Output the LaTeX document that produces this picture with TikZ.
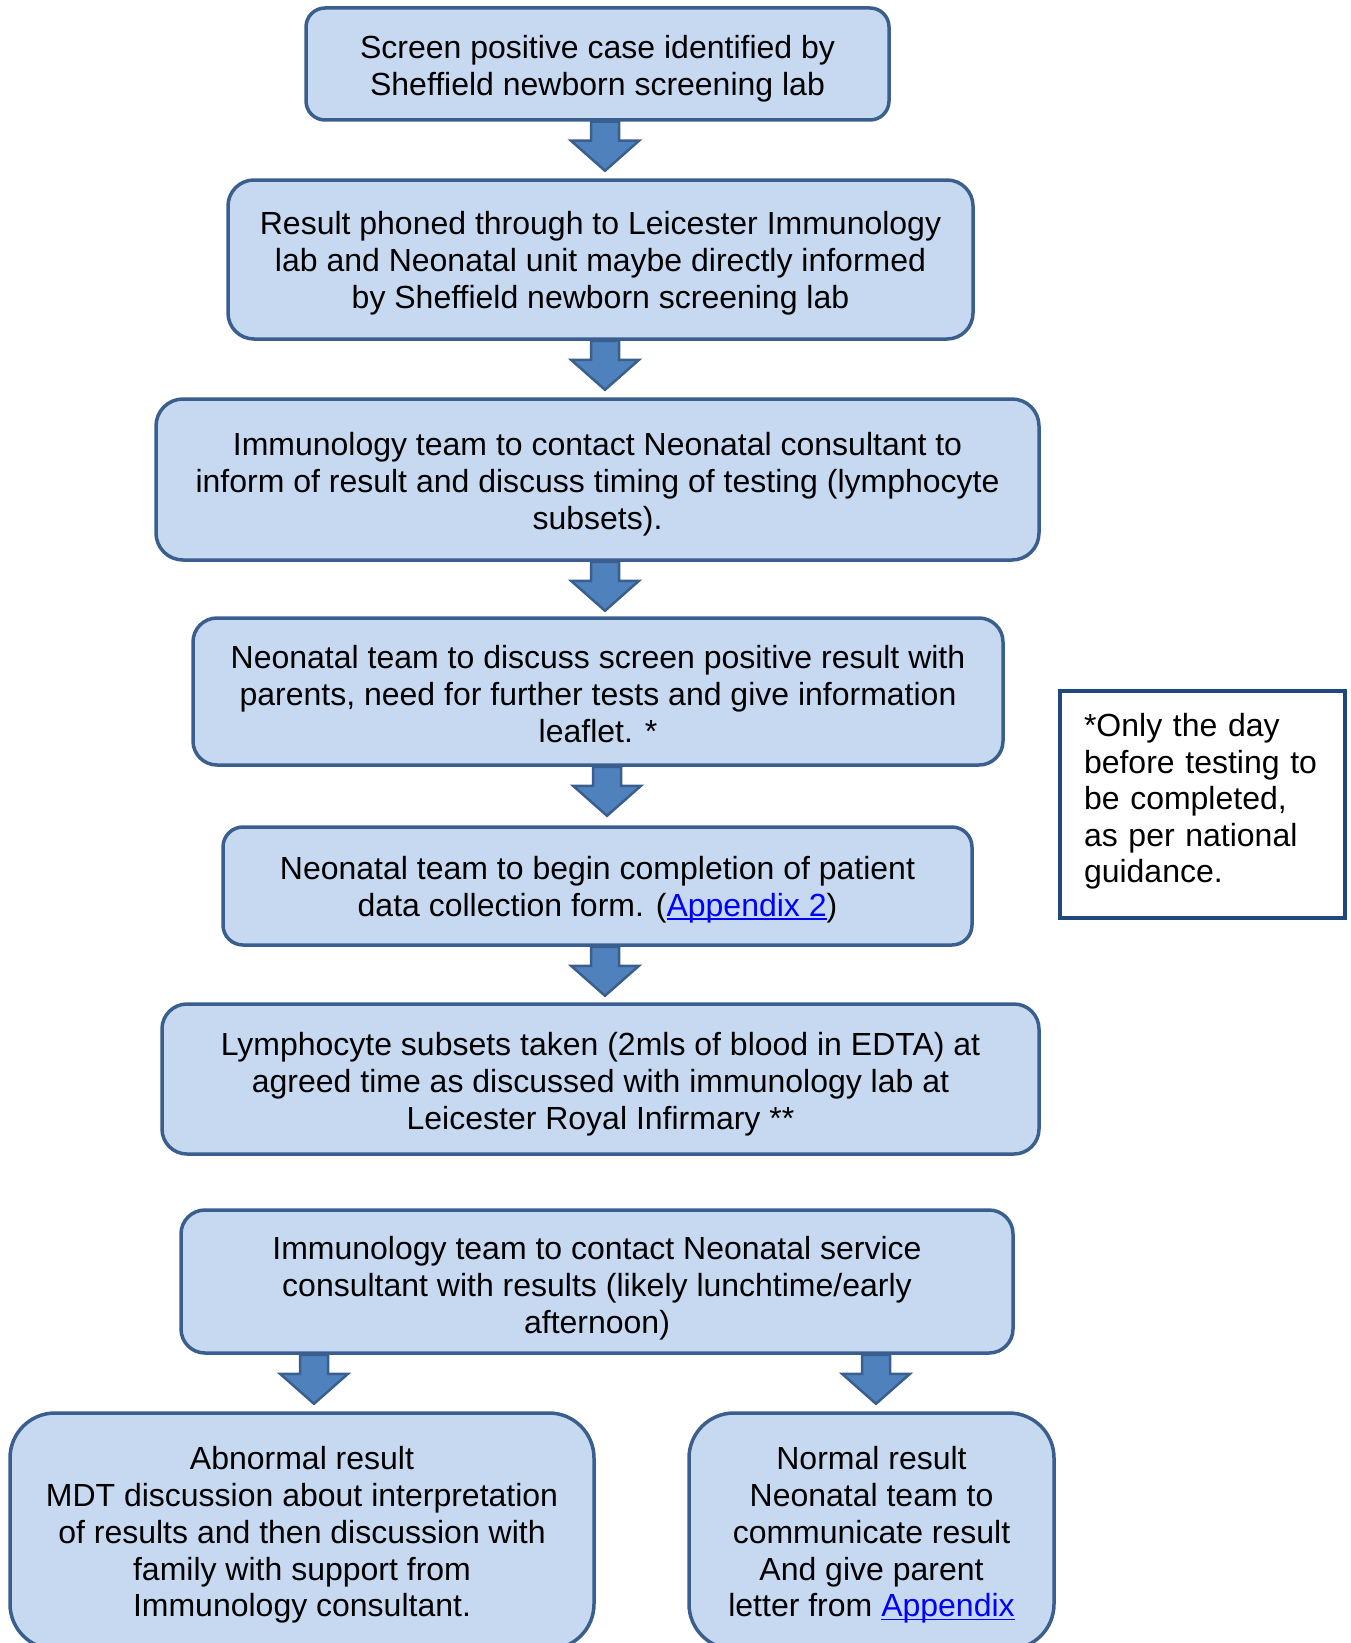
\documentclass[tikz,border=0pt]{standalone}
\usepackage{fontspec}
\setmainfont{Liberation Sans}
\usetikzlibrary{calc}
\definecolor{boxfill}{HTML}{C6D9F1}
\definecolor{boxline}{HTML}{3A5F8E}
\definecolor{arrfill}{HTML}{4F81BD}
\definecolor{sideline}{HTML}{1F497D}
\definecolor{linkblue}{HTML}{0000FF}
\newcommand\ulink[1]{\textcolor{linkblue}{\setbox0\hbox{#1}\rlap{\rule[-3.5pt]{\wd0}{1.8pt}}\box0}}
\newcommand\blockarrow[3]{%
  \path let \p1=(#1.south), \p2=(#2.north) in
    [arrowshape] ({#3pt-14pt},{\y1}) -- ({#3pt-14pt},{\y1-19pt}) -- ({#3pt-34pt},{\y1-19pt})
    -- ({#3pt},{\y1-49pt}) -- ({#3pt+34pt},{\y1-19pt}) -- ({#3pt+14pt},{\y1-19pt})
    -- ({#3pt+14pt},{\y1}) -- cycle;}
\tikzset{
  flowbox/.style={draw=boxline, fill=boxfill, line width=3.5pt, inner sep=0pt},
  tx/.style={align=center, font={\fontsize{32}{36.8}\selectfont}, inner sep=0pt, yshift=#1},
  tx/.default=-4.5pt,
  sidebox/.style={draw=sideline, fill=white, line width=4.5pt, align=left,
    text width=237pt, inner xsep=24pt, inner ysep=0pt,
    font={\fontsize{32}{36.6}\selectfont},
    execute at end node={\rule[-13pt]{0pt}{13pt}}},
  arrowshape/.style={draw=boxline, fill=arrfill, line width=2.5pt, line join=miter}
}
\begin{document}
\begin{tikzpicture}[x=1pt,y=-1pt]
\useasboundingbox (0,0) rectangle (1351,1643);
\clip (0,0) rectangle (1351,1643);
\node[flowbox, minimum width=583pt, minimum height=112pt, rounded corners=19pt,
  label={[tx]center:{Screen positive case identified by\\Sheffield newborn screening lab}}] (b1) at (597.5,64) {};
\node[flowbox, minimum width=745pt, minimum height=159pt, rounded corners=26pt,
  label={[tx=-4pt]center:{Result phoned through to Leicester Immunology\\lab and Neonatal unit maybe directly informed\\by Sheffield newborn screening lab}}] (b2) at (600.5,259.5) {};
\node[flowbox, minimum width=883pt, minimum height=161pt, rounded corners=27pt,
  label={[tx=-5pt]center:{Immunology team to contact Neonatal consultant to\\inform of result and discuss timing of testing (lymphocyte\\subsets).}}] (b3) at (597.5,479.5) {};
\node[flowbox, minimum width=810pt, minimum height=147pt, rounded corners=24pt,
  label={[tx=-2.5pt]center:{Neonatal team to discuss screen positive result with\\parents, need for further tests and give information\\leaflet. *}}] (b4) at (598,691.5) {};
\node[flowbox, minimum width=749pt, minimum height=118pt, rounded corners=20pt,
  label={[tx=-4pt]center:{Neonatal team to begin completion of patient\\data collection form. (\ulink{Appendix 2})}}] (b5) at (597.5,886) {};
\node[flowbox, minimum width=877pt, minimum height=150pt, rounded corners=25pt,
  label={[tx=-5pt]center:{Lymphocyte subsets taken (2mls of blood in EDTA) at\\agreed time as discussed with immunology lab at\\Leicester Royal Infirmary **}}] (b6) at (600.5,1079) {};
\node[flowbox, minimum width=832pt, minimum height=143pt, rounded corners=24pt,
  label={[tx=-7pt]center:{Immunology team to contact Neonatal service\\consultant with results (likely lunchtime/early\\afternoon)}}] (b7) at (597,1281.5) {};
\node[flowbox, minimum width=584pt, minimum height=236pt, rounded corners=45pt,
  label={[tx=-4pt]center:{Abnormal result\\MDT discussion about interpretation\\of results and then discussion with\\family with support from\\Immunology consultant.}}] (b8) at (302,1531) {};
\node[flowbox, minimum width=365pt, minimum height=236pt, rounded corners=45pt,
  label={[tx=-4pt]center:{Normal result\\Neonatal team to\\communicate result\\And give parent\\letter from \ulink{Appendix}}}] (b9) at (871.5,1531) {};
\node[sidebox, minimum width=285pt, minimum height=227pt] (side) at (1202.5,804.5)
  {*Only the day\\before testing to\\be completed,\\as per national\\guidance.};
\blockarrow{b1}{b2}{605}
\blockarrow{b2}{b3}{605}
\blockarrow{b3}{b4}{605}
\blockarrow{b4}{b5}{607}
\blockarrow{b5}{b6}{605}
\blockarrow{b7}{b8}{314}
\blockarrow{b7}{b9}{876}
\end{tikzpicture}
\end{document}
